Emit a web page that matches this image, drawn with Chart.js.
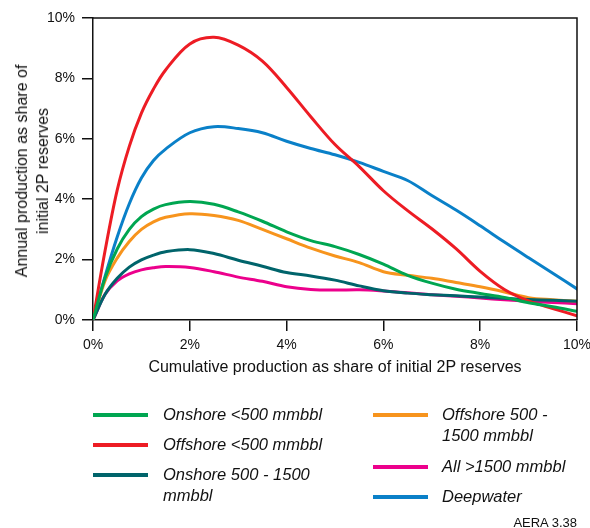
<!DOCTYPE html>
<html>
<head>
<meta charset="utf-8">
<script src="https://cdn.jsdelivr.net/npm/chart.js@4/dist/chart.umd.min.js"></script>
<style>
  html, body { margin: 0; padding: 0; background: #fff; }
  #wrap { position: relative; width: 590px; height: 528px; font-family: "Liberation Sans", Arial, sans-serif; color: #111; }
  #c { position: absolute; left: 0; top: 0; }
  .abs { position: absolute; white-space: nowrap; }
  #ytitle { left: 32px; top: 171px; transform: translate(-50%, -50%) rotate(-90deg); font-size: 16px; line-height: 21px; text-align: center; }
  #xtitle { left: 335px; top: 367px; transform: translate(-50%, -50%); font-size: 16px; }
  .sw { position: absolute; width: 55px; height: 4px; }
  .lt { position: absolute; font-style: italic; font-size: 16.5px; line-height: 21px; }
  #src { right: 13px; top: 522px; transform: translateY(-50%); font-size: 13px; }
</style>
</head>
<body>
<div id="wrap">
  <canvas id="c" width="590" height="528"></canvas>
  <div id="ytitle" class="abs">Annual production as share of<br>initial 2P reserves</div>
  <div id="xtitle" class="abs">Cumulative production as share of initial 2P reserves</div>
  <div id="legend"></div>
  <div id="src" class="abs">AERA 3.38</div>
</div>
<script>
// x positions: cumulative production (% of initial 2P reserves)
const xs = [0, 0.25, 0.5, 0.75, 1, 1.25, 1.5, 2, 2.5, 3, 3.5, 4, 4.5, 5, 5.5, 6, 6.5, 7, 7.5, 8, 8.5, 9, 9.5, 10];

// annual production (% of initial 2P reserves)
const onshoreSmall   = [0, 1.4, 2.35, 3.0, 3.42, 3.67, 3.82, 3.92, 3.83, 3.58, 3.27, 2.92, 2.63, 2.43, 2.17, 1.85, 1.48, 1.22, 1.02, 0.88, 0.75, 0.57, 0.44, 0.29];
const offshoreSmall  = [0, 2.3, 4.3, 5.75, 6.85, 7.65, 8.28, 9.14, 9.36, 9.1, 8.57, 7.7, 6.73, 5.81, 5.08, 4.28, 3.62, 3.02, 2.36, 1.61, 1.01, 0.63, 0.38, 0.14];
const onshoreMid     = [0, 0.85, 1.38, 1.75, 1.99, 2.15, 2.26, 2.33, 2.2, 1.98, 1.78, 1.57, 1.46, 1.32, 1.13, 0.97, 0.89, 0.84, 0.8, 0.76, 0.72, 0.68, 0.65, 0.62];
const offshoreMid    = [0, 1.3, 2.05, 2.6, 3.0, 3.25, 3.4, 3.52, 3.46, 3.3, 3.0, 2.69, 2.38, 2.12, 1.9, 1.6, 1.48, 1.38, 1.24, 1.1, 0.93, 0.74, 0.67, 0.62];
const allLarge       = [0, 0.85, 1.3, 1.53, 1.66, 1.73, 1.77, 1.74, 1.6, 1.42, 1.28, 1.1, 1.01, 0.99, 1.0, 0.96, 0.9, 0.84, 0.79, 0.73, 0.67, 0.62, 0.58, 0.54];
const deepwater      = [0, 1.45, 2.75, 3.85, 4.7, 5.28, 5.66, 6.2, 6.4, 6.34, 6.2, 5.92, 5.68, 5.47, 5.22, 4.92, 4.62, 4.12, 3.64, 3.12, 2.58, 2.06, 1.55, 1.03];

const seriesNames = ["Onshore <500 mmbbl", "Offshore <500 mmbbl", "Onshore 500 - 1500 mmbbl", "Offshore 500 - 1500 mmbbl", "All >1500 mmbbl", "Deepwater"];
const seriesValues = [onshoreSmall, offshoreSmall, onshoreMid, offshoreMid, allLarge, deepwater];
const seriesColors = ["#00a651", "#ed1c24", "#00646b", "#f7941d", "#ec008c", "#0a80c8"];

const xTicks = [0, 2, 4, 6, 8, 10];
const yTicks = [0, 2, 4, 6, 8, 10];

const datasets = seriesValues.map((vals, i) => ({
  label: seriesNames[i],
  data: vals.map((v, j) => ({ x: xs[j], y: v })),
  borderColor: seriesColors[i],
  backgroundColor: seriesColors[i],
  borderWidth: 3,
  pointRadius: 0,
  fill: false,
  tension: 0.35,
  borderCapStyle: 'round',
  borderJoinStyle: 'round'
}));

const boxPlugin = {
  id: 'box',
  afterDatasetsDraw(chart) {
    const { ctx, chartArea: a } = chart;
    ctx.save();
    ctx.strokeStyle = '#111';
    ctx.lineWidth = 1.5;
    ctx.beginPath();
    ctx.moveTo(a.left, a.top);
    ctx.lineTo(a.right, a.top);
    ctx.lineTo(a.right, a.bottom);
    ctx.stroke();
    ctx.restore();
  }
};

const tickFont = { family: "'Liberation Sans', Arial, sans-serif", size: 14 };

new Chart(document.getElementById('c'), {
  type: 'line',
  data: { datasets },
  options: {
    responsive: false,
    animation: false,
    layout: { padding: { top: 18, right: 13, left: 0, bottom: 0 } },
    plugins: { legend: { display: false }, tooltip: { enabled: false } },
    scales: {
      x: {
        type: 'linear', min: 0, max: 10,
        afterFit(s) { s.height = 208; s.paddingRight = 0; s.paddingLeft = 0; },
        afterBuildTicks(s) { s.ticks = xTicks.map(v => ({ value: v })); },
        ticks: { callback: v => v + '%', font: tickFont, color: '#111', padding: 6, maxRotation: 0 },
        grid: { drawOnChartArea: false, drawTicks: true, tickLength: 11, color: '#111', lineWidth: 1.5 },
        border: { display: true, color: '#111', width: 1.5 }
      },
      y: {
        type: 'linear', min: 0, max: 10,
        afterFit(s) { s.width = 93; s.paddingTop = 0; s.paddingBottom = 0; },
        afterBuildTicks(s) { s.ticks = yTicks.map(v => ({ value: v })); },
        ticks: { callback: v => v + '%', font: tickFont, color: '#111', padding: 7 },
        grid: { drawOnChartArea: false, drawTicks: true, tickLength: 11, color: '#111', lineWidth: 1.5 },
        border: { display: true, color: '#111', width: 1.5 }
      }
    }
  },
  plugins: [boxPlugin]
});

// HTML legend
const legendLayout = [
  { i: 0, sx: 93, sy: 415, tx: 163, lines: ["Onshore <500 mmbbl"] },
  { i: 1, sx: 93, sy: 445, tx: 163, lines: ["Offshore <500 mmbbl"] },
  { i: 2, sx: 93, sy: 475, tx: 163, lines: ["Onshore 500 - 1500", "mmbbl"] },
  { i: 3, sx: 373, sy: 415, tx: 442, lines: ["Offshore 500 -", "1500 mmbbl"] },
  { i: 4, sx: 373, sy: 467, tx: 442, lines: ["All >1500 mmbbl"] },
  { i: 5, sx: 373, sy: 497, tx: 442, lines: ["Deepwater"] }
];
const lg = document.getElementById('legend');
legendLayout.forEach(it => {
  const sw = document.createElement('div');
  sw.className = 'sw';
  sw.style.left = it.sx + 'px';
  sw.style.top = (it.sy - 2) + 'px';
  sw.style.background = seriesColors[it.i];
  lg.appendChild(sw);
  const t = document.createElement('div');
  t.className = 'lt';
  t.style.left = it.tx + 'px';
  t.style.top = (it.sy - 11) + 'px';
  t.innerHTML = it.lines.map(s => s.replace(/</g, '&lt;').replace(/>/g, '&gt;')).join('<br>');
  lg.appendChild(t);
});
</script>
</body>
</html>
